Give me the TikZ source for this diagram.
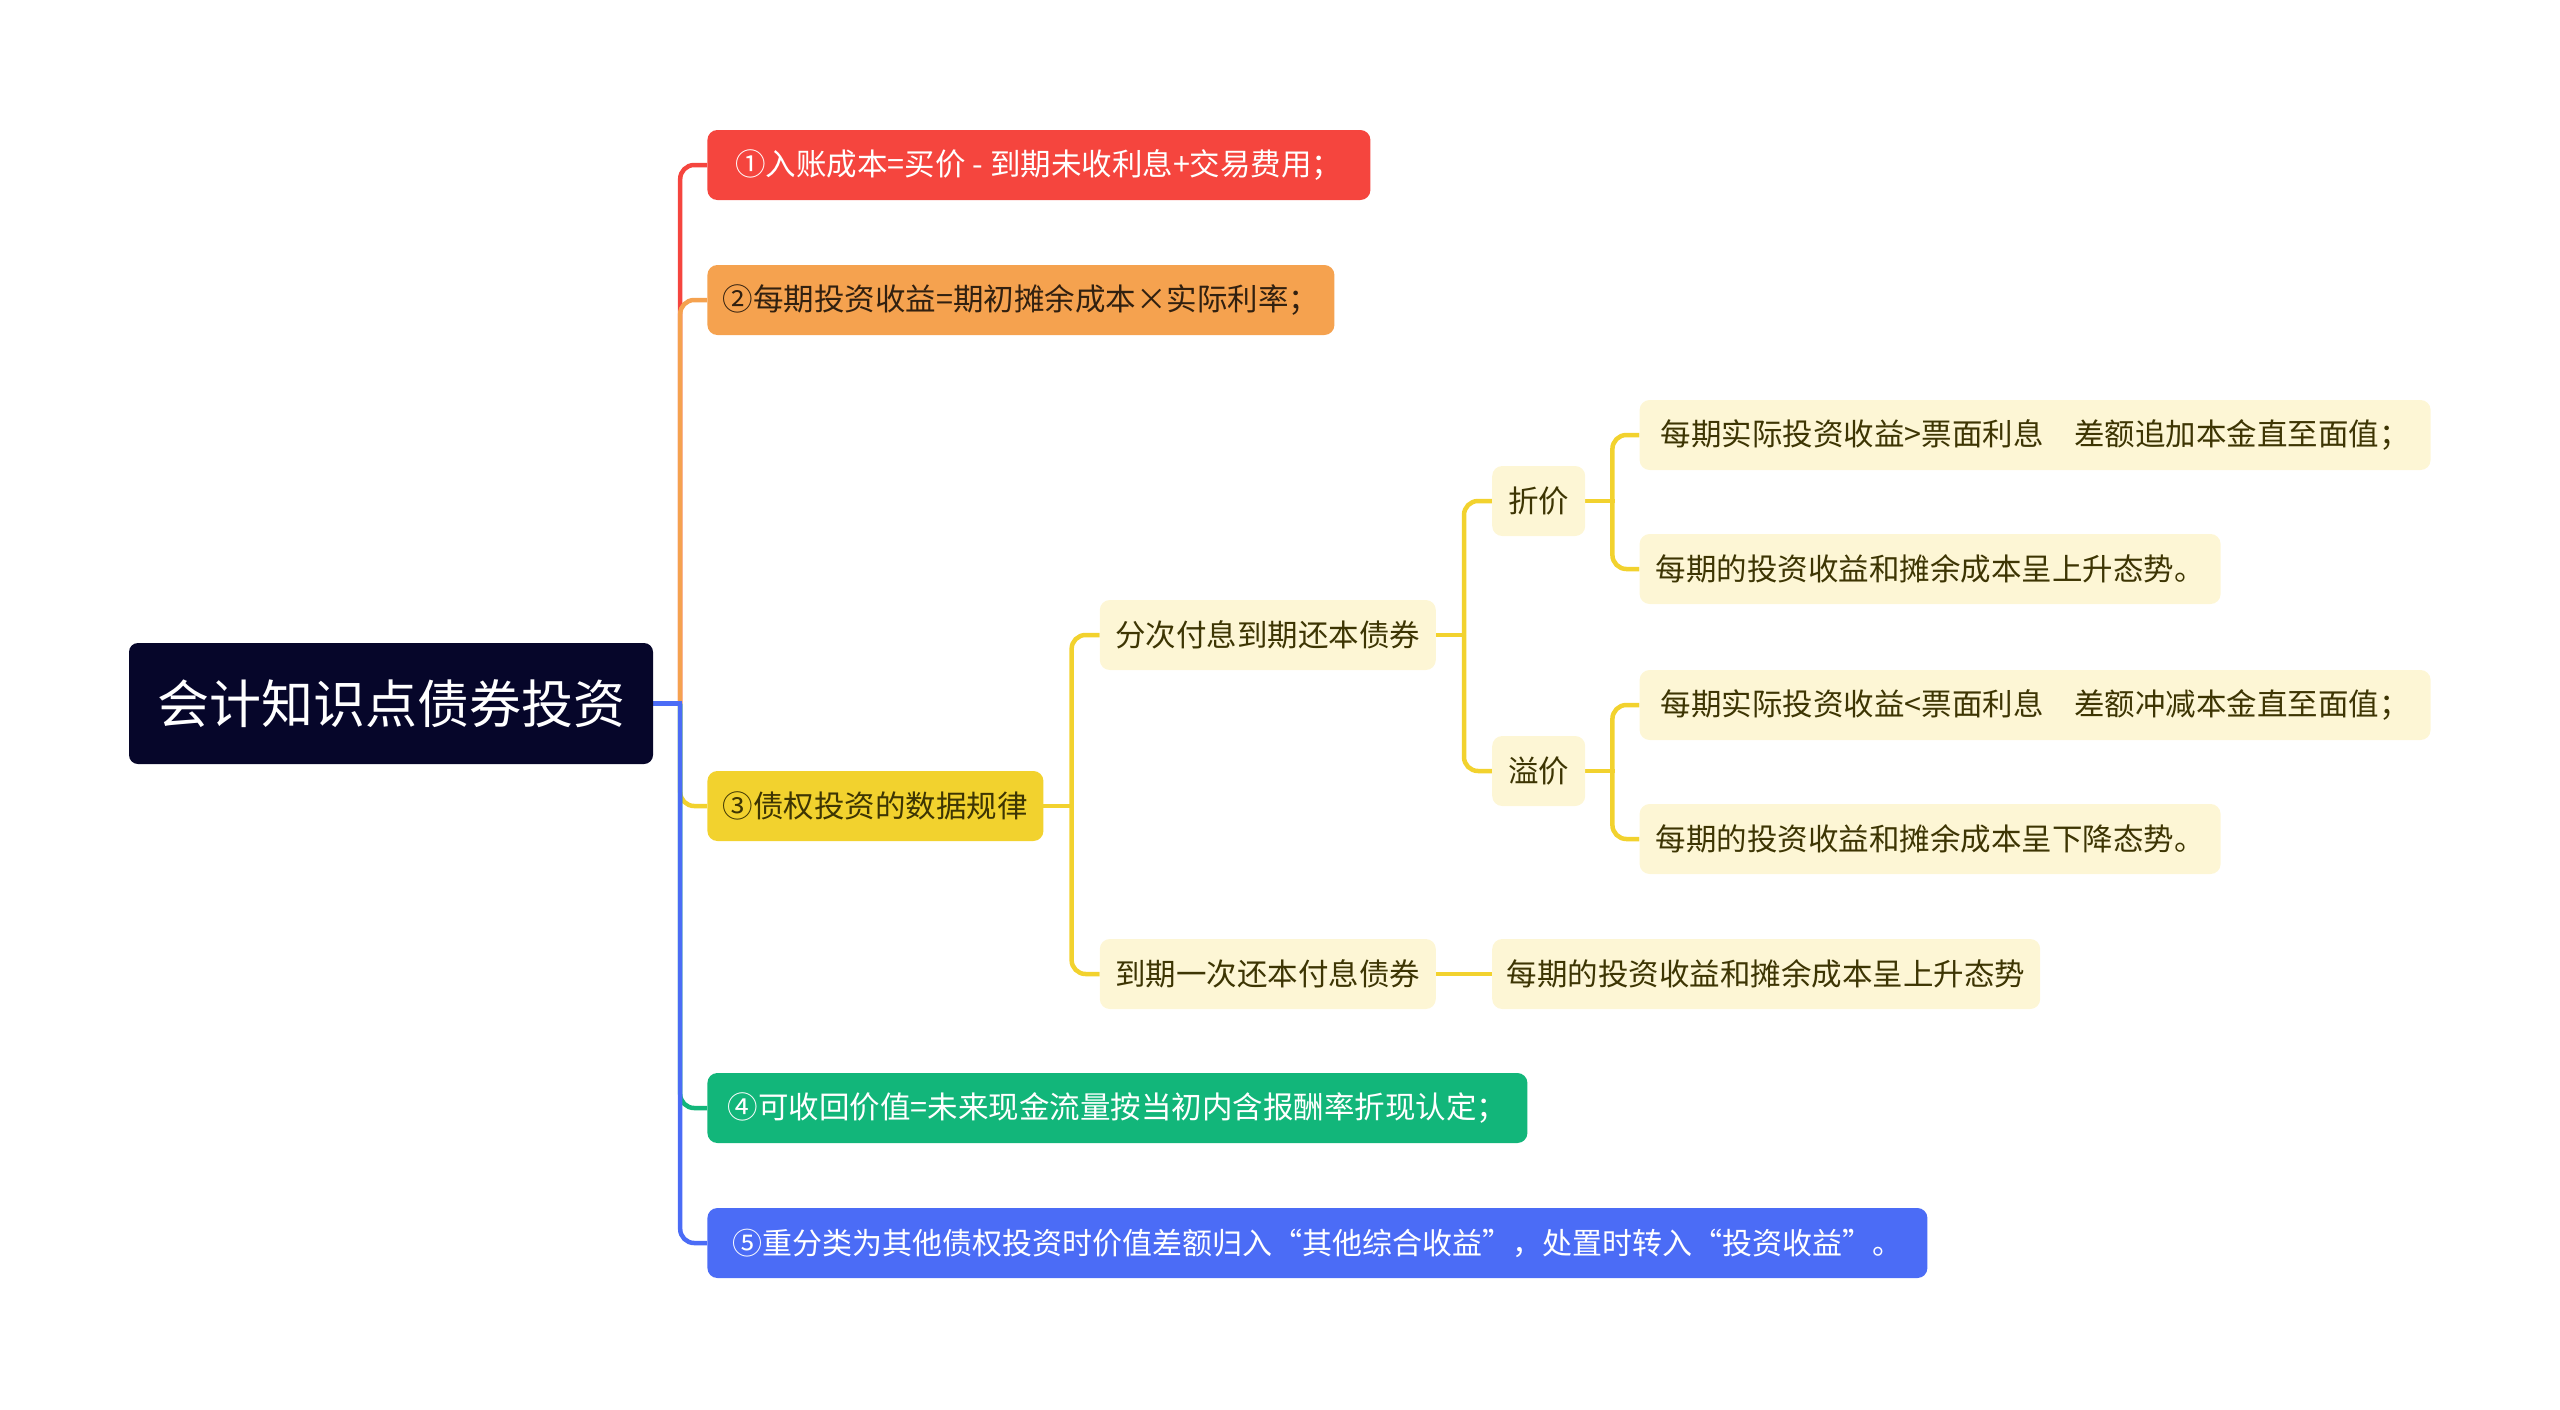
\documentclass[tikz,border=0pt]{standalone}
\usepackage{fontspec}
\newfontfamily\cjk{Noto Sans CJK SC}
\usepackage{tikz}
\usetikzlibrary{positioning, calc, backgrounds}
\definecolor{rootnavy}{HTML}{06062A}
\definecolor{clrred}{HTML}{F5453E}
\definecolor{clrorange}{HTML}{F5A24F}
\definecolor{clryellow}{HTML}{F2D22E}
\definecolor{clrgreen}{HTML}{12B67A}
\definecolor{clrblue}{HTML}{4B6CF6}
\definecolor{leafbg}{HTML}{FDF6D5}
\definecolor{leaftext}{HTML}{3D3503}
\tikzset{
  % central topic
  rootbox/.style={
    rectangle, rounded corners=9pt, fill=rootnavy, text=white,
    minimum width=524pt, minimum height=121pt, inner sep=0pt,
    font=\cjk\fontsize{52pt}{60pt}\selectfont,
  },
  % first level branches
  branch/.style={
    rectangle, rounded corners=10pt, fill=#1, text=white,
    minimum height=70pt, inner sep=0pt,
    font=\cjk\fontsize{30.5pt}{40pt}\selectfont,
  },
  branch/.default={clrred},
  % pale yellow sub topics
  subtopic/.style={
    rectangle, rounded corners=10pt, fill=leafbg, text=leaftext,
    minimum height=70pt, inner sep=0pt,
    font=\cjk\fontsize{#1}{40pt}\selectfont,
  },
  subtopic/.default={30.5pt},
  % connectors
  link/.style={draw=#1, line width=4.5pt, rounded corners=14pt},
  link/.default={clryellow},
}

\begin{document}
\begin{tikzpicture}
  \useasboundingbox (0,0) rectangle (2560pt,-1409pt);

  % Central topic
  \node[rootbox] (root) at (391pt,-703.5pt) {会计知识点债券投资};

  % Main branches
  \node[branch=clrred, minimum width=663pt, right=54pt of root, yshift=538.5pt] (b1)
    {①入账成本=买价 - 到期未收利息+交易费用；};
  \node[branch=clrorange, text=black!80!clrorange, minimum width=627pt, right=54pt of root, yshift=403.5pt] (b2)
    {②每期投资收益=期初摊余成本×实际利率；};
  \node[branch=clryellow, text=leaftext, minimum width=336pt, right=54pt of root, yshift=-102.5pt] (b3)
    {③债权投资的数据规律};
  \node[branch=clrgreen, minimum width=820pt, right=54pt of root, yshift=-404.5pt] (b4)
    {④可收回价值=未来现金流量按当初内含报酬率折现认定；};
  \node[branch=clrblue, font=\cjk\fontsize{30pt}{40pt}\selectfont, minimum width=1220pt, right=54pt of root, yshift=-539.5pt] (b5)
    {⑤重分类为其他债权投资时价值差额归入“其他综合收益”，处置时转入“投资收益”。};

  % Bond types
  \node[subtopic, minimum width=336pt, right=56pt of b3, yshift=171pt] (split) {分次付息到期还本债券};
  \node[subtopic, minimum width=336pt, right=56pt of b3, yshift=-168pt] (once) {到期一次还本付息债券};

  % Discount / premium
  \node[subtopic, minimum width=93pt, right=56pt of split, yshift=134pt] (disc) {折价};
  \node[subtopic, minimum width=93pt, right=56pt of split, yshift=-136pt] (prem) {溢价};

  % Leaves
  \node[subtopic, minimum width=791pt, right=54pt of disc, yshift=66pt] (disc1)
    {每期实际投资收益>票面利息\quad 差额追加本金直至面值；};
  \node[subtopic, minimum width=581pt, right=54pt of disc, yshift=-68pt] (disc2)
    {每期的投资收益和摊余成本呈上升态势。};
  \node[subtopic, minimum width=791pt, right=54pt of prem, yshift=66pt] (prem1)
    {每期实际投资收益<票面利息\quad 差额冲减本金直至面值；};
  \node[subtopic, minimum width=581pt, right=54pt of prem, yshift=-68pt] (prem2)
    {每期的投资收益和摊余成本呈下降态势。};
  \node[subtopic, minimum width=548pt, right=56pt of once] (once1)
    {每期的投资收益和摊余成本呈上升态势};

  % Connectors
  \begin{scope}[on background layer]
    \coordinate (fork0) at ($(root.east)+(27pt,0)$);
    \draw[link=clrred] (fork0) |- (b1.west);
    \draw[link=clrorange] (fork0) |- (b2.west);
    \draw[link=clryellow] (fork0) |- (b3.west);
    \draw[link=clrgreen] (fork0) |- (b4.west);
    \draw[link=clrblue] (fork0) |- (b5.west);
    \draw[link=clrblue, line cap=rect] (root.east) -- (fork0);

    \coordinate (fork3) at ($(b3.east)+(28pt,0)$);
    \draw[link, line cap=rect] (b3.east) -- (fork3);
    \draw[link] (fork3) |- (split.west);
    \draw[link] (fork3) |- (once.west);

    \coordinate (forksp) at ($(split.east)+(28pt,0)$);
    \draw[link, line cap=rect] (split.east) -- (forksp);
    \draw[link] (forksp) |- (disc.west);
    \draw[link] (forksp) |- (prem.west);

    \coordinate (forkdc) at ($(disc.east)+(27pt,0)$);
    \draw[link, line cap=rect] (disc.east) -- (forkdc);
    \draw[link] (forkdc) |- (disc1.west);
    \draw[link] (forkdc) |- (disc2.west);

    \coordinate (forkpr) at ($(prem.east)+(27pt,0)$);
    \draw[link, line cap=rect] (prem.east) -- (forkpr);
    \draw[link] (forkpr) |- (prem1.west);
    \draw[link] (forkpr) |- (prem2.west);

    \draw[link] (once.east) -- (once1.west);
  \end{scope}
\end{tikzpicture}
\end{document}
